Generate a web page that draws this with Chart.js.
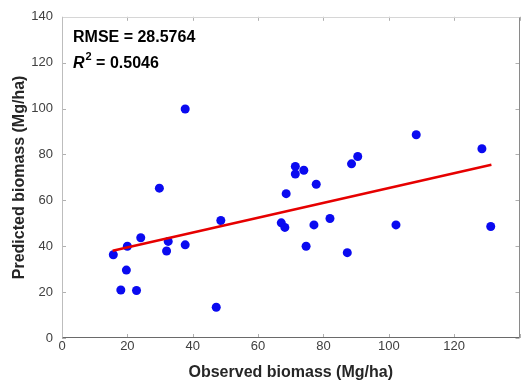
<!DOCTYPE html>
<html>
<head>
<meta charset="utf-8">
<script src="https://cdn.jsdelivr.net/npm/chart.js@4/dist/chart.umd.min.js"></script>
<style>
  body { margin: 0; background: #fff; }
  canvas { display: block; }
</style>
</head>
<body>
<canvas id="chart" width="524" height="385"></canvas>
<script>
// observed vs predicted biomass (Mg/ha)
const observed = [15.7, 20.0, 19.7, 18.0, 22.8, 24.1, 29.8, 32.0, 32.5, 37.7, 37.7, 47.2, 48.6, 67.1, 68.2,
  68.6, 71.4, 71.4, 74.0, 74.7, 77.1, 77.8, 82.0, 87.3, 88.6, 90.5, 102.2, 108.4, 128.5, 131.2];
const predicted = [36.3, 40.0, 29.6, 20.9, 20.7, 43.7, 65.3, 37.9, 42.1, 40.6, 99.8, 13.4, 51.2, 50.2, 48.2,
  62.9, 74.8, 71.5, 73.1, 40.0, 49.3, 67.0, 52.1, 37.2, 75.9, 79.1, 49.3, 88.6, 82.5, 48.6];

// regression line end points
const fitX = [15.5, 131.4];
const fitY = [38.0, 75.5];

const xTicks = [0, 20, 40, 60, 80, 100, 120, 140];
const yTicks = [0, 20, 40, 60, 80, 100, 120, 140];
const rmseText = "RMSE = 28.5764";
const r2Value = "0.5046";

const FONT = "'Liberation Sans', Arial, sans-serif";

const points = observed.map((x, i) => ({ x: x, y: predicted[i] }));
const fitLine = fitX.map((x, i) => ({ x: x, y: fitY[i] }));

// box around the plot, with inward ticks like matlab
const boxPlugin = {
  id: "box",
  beforeDatasetsDraw(chart) {
    const { ctx, chartArea: a, scales } = chart;
    const len = 4;
    ctx.save();
    ctx.lineWidth = 1;
    // ticks
    ctx.strokeStyle = "#b0b0b0";
    ctx.beginPath();
    xTicks.forEach(v => {
      const px = Math.round(scales.x.getPixelForValue(v)) + 0.5;
      ctx.moveTo(px, a.bottom); ctx.lineTo(px, a.bottom - len);
      ctx.moveTo(px, a.top); ctx.lineTo(px, a.top + len);
    });
    yTicks.forEach(v => {
      const py = Math.round(scales.y.getPixelForValue(v)) + 0.5;
      ctx.moveTo(a.left, py); ctx.lineTo(a.left + len, py);
      ctx.moveTo(a.right, py); ctx.lineTo(a.right - len, py);
    });
    ctx.stroke();
    // sides
    const line = (x1, y1, x2, y2, c) => {
      ctx.strokeStyle = c;
      ctx.beginPath(); ctx.moveTo(x1, y1); ctx.lineTo(x2, y2); ctx.stroke();
    };
    const l = Math.round(a.left) + 0.5, r = Math.round(a.right) - 0.5;
    const t = Math.round(a.top) + 0.5, b = Math.round(a.bottom) - 0.5;
    line(l, t, r, t, "#d6d6d6");
    line(r, t, r, b, "#8a8a8a");
    line(l, b, r, b, "#6a6a6a");
    line(l, t, l, b, "#bdbdbd");
    ctx.restore();
  },
  afterDraw(chart) {
    const { ctx } = chart;
    ctx.save();
    ctx.fillStyle = "#000";
    ctx.textBaseline = "alphabetic";
    ctx.font = "bold 16px " + FONT;
    ctx.fillText(rmseText, 73, 42);
    let x = 73;
    ctx.font = "italic bold 16px " + FONT;
    ctx.fillText("R", x, 67.5);
    x += ctx.measureText("R").width + 1;
    ctx.font = "bold 11px " + FONT;
    ctx.fillText("2", x, 60);
    x += ctx.measureText("2").width;
    ctx.font = "bold 16px " + FONT;
    ctx.fillText(" = " + r2Value, x, 67.5);
    ctx.restore();
  }
};

new Chart(document.getElementById("chart"), {
  type: "scatter",
  data: {
    datasets: [
      {
        label: "fit",
        type: "line",
        data: fitLine,
        borderColor: "#e60000",
        borderWidth: 2.5,
        pointRadius: 0,
        fill: false
      },
      {
        label: "samples",
        data: points,
        backgroundColor: "#0a0af0",
        borderColor: "#0a0af0",
        borderWidth: 0,
        pointRadius: 4.5
      }
    ]
  },
  options: {
    responsive: false,
    animation: false,
    layout: { padding: { left: 0, top: 16, right: 1, bottom: 0 } },
    plugins: {
      legend: { display: false },
      tooltip: { enabled: false }
    },
    scales: {
      x: {
        type: "linear",
        min: 0,
        max: 140,
        afterFit(s) { s.height = 47; },
        afterBuildTicks(s) { s.ticks = xTicks.map(v => ({ value: v })); },
        grid: { display: false, drawTicks: false },
        border: { display: false },
        ticks: {
          padding: 1,
          color: "#404040",
          font: { family: FONT, size: 13 },
          callback: v => (v === 140 ? "" : v)
        },
        title: {
          display: true,
          text: "Observed biomass (Mg/ha)",
          color: "#262626",
          font: { family: FONT, size: 16, weight: "bold" },
          padding: { top: 0, bottom: 3 }
        }
      },
      y: {
        type: "linear",
        min: 0,
        max: 140,
        afterFit(s) { s.width = 62; },
        afterBuildTicks(s) { s.ticks = yTicks.map(v => ({ value: v })); },
        grid: { display: false, drawTicks: false },
        border: { display: false },
        ticks: {
          padding: 9,
          color: "#404040",
          font: { family: FONT, size: 13 }
        },
        title: {
          display: true,
          text: "Predicted biomass (Mg/ha)",
          color: "#262626",
          font: { family: FONT, size: 16, weight: "bold" },
          padding: { top: 10, bottom: 0 }
        }
      }
    }
  },
  plugins: [boxPlugin]
});
</script>
</body>
</html>
